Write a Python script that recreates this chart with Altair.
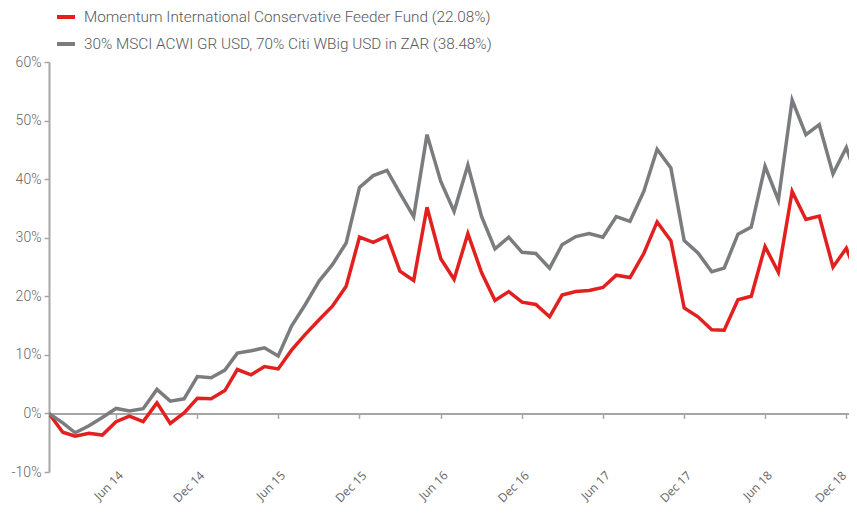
import altair as alt
import pandas as pd

FUND = "Momentum International Conservative Feeder Fund (22.08%)"
BENCH = "30% MSCI ACWI GR USD, 70% Citi WBig USD in ZAR (38.48%)"
RED = "#e2201f"
GRAY = "#7b7c7f"

# Monthly observations, Jan 2014 .. Jan 2019
months = [f"{2014 + (m // 12)}-{m % 12 + 1:02d}-01" for m in range(61)]

fund = [0, -3.2, -3.9, -3.4, -3.7, -1.4, -0.45, -1.4, 1.8, -1.7, 0.1, 2.6, 2.5, 3.9,
        7.5, 6.6, 8.0, 7.6, 10.8, 13.5, 16.0, 18.3, 21.7, 30.1, 29.2, 30.3, 24.3, 22.7,
        35.2, 26.4, 22.9, 30.7, 24.0, 19.3, 20.8, 19.0, 18.6, 16.5, 20.2, 20.8, 21.0,
        21.5, 23.6, 23.2, 27.3, 32.7, 29.5, 18.0, 16.5, 14.3, 14.2, 19.4, 20.0, 28.5,
        24.1, 37.9, 33.1, 33.7, 25.0, 28.2, 22.08]

bench = [0, -1.6, -3.3, -2.1, -0.7, 0.85, 0.4, 0.8, 4.1, 2.1, 2.5, 6.3, 6.1, 7.4,
         10.3, 10.7, 11.2, 9.8, 14.9, 18.6, 22.6, 25.4, 29.1, 38.6, 40.6, 41.5, 37.6,
         33.6, 47.6, 39.6, 34.5, 42.4, 33.6, 28.1, 30.1, 27.5, 27.3, 24.8, 28.8, 30.2,
         30.7, 30.1, 33.6, 32.8, 37.9, 45.1, 41.9, 29.5, 27.4, 24.2, 24.8, 30.6, 31.8,
         42.2, 36.4, 53.5, 47.6, 49.3, 40.9, 45.4, 38.48]

tick_months = [(y, m) for y in range(2014, 2019) for m in (6, 12)]
y_ticks = [-10, 0, 10, 20, 30, 40, 50, 60]

df = pd.DataFrame({
    "date": months * 2,
    "series": [FUND] * len(fund) + [BENCH] * len(bench),
    "value": fund + bench,
})

x_axis = alt.Axis(
    values=[alt.DateTime(year=y, month=m, date=1, utc=True) for y, m in tick_months],
    format="%b %y",
    labelAngle=315,
    offset=-58.6,
    tickSize=5,
    tickColor="#a6a6a6",
    tickWidth=1.5,
    domainColor="#a6a6a6",
    domainWidth=2,
    labelPadding=51,
    labelOffset={
        "condition": {
            "test": "utcyear(datum.value) == 2018 && utcmonth(datum.value) == 11",
            "value": -6,
        },
        "value": 1,
    },
    labelFont="Open Sans",
    labelFontSize=12,
    labelColor="#666666",
    grid=False,
    title=None,
)

y_axis = alt.Axis(
    values=y_ticks,
    labelExpr="datum.value + '%'",
    tickSize=5,
    tickColor="#a6a6a6",
    tickWidth=1.5,
    domainColor="#a6a6a6",
    domainWidth=2,
    labelPadding=3,
    labelFont="Roboto",
    labelFontSize=14,
    labelFontWeight=300,
    labelColor="#666666",
    grid=False,
    title=None,
)

legend = alt.Legend(
    title=None,
    orient="none",
    legendX=6,
    legendY=-56,
    symbolType="stroke",
    symbolSize=324,
    symbolStrokeWidth=4,
    labelFont="Roboto",
    labelFontSize=15.3,
    labelFontWeight=300,
    labelColor="#58595b",
    labelOffset=7,
    rowPadding=7,
    padding=0,
    labelLimit=0,
)

chart = (
    alt.Chart(df)
    .mark_line(strokeWidth=3.5, clip=True)
    .encode(
        x=alt.X(
            "date:T",
            scale=alt.Scale(
                type="utc",
                domain=[
                    alt.DateTime(year=2014, month=1, date=1, utc=True),
                    alt.DateTime(year=2018, month=12, date=7, utc=True),
                ],
            ),
            axis=x_axis,
        ),
        y=alt.Y("value:Q", scale=alt.Scale(domain=[-10, 60], nice=False), axis=y_axis),
        color=alt.Color(
            "series:N",
            scale=alt.Scale(domain=[FUND, BENCH], range=[RED, GRAY]),
            legend=legend,
        ),
    )
    .properties(
        width=800,
        height=410,
        autosize=alt.AutoSizeParams(type="none"),
        padding={"left": 41, "top": 54, "right": 0, "bottom": 42},
    )
    .configure_view(stroke=None)
)

chart.save("out.html", embed_options={"renderer": "svg", "actions": False})
